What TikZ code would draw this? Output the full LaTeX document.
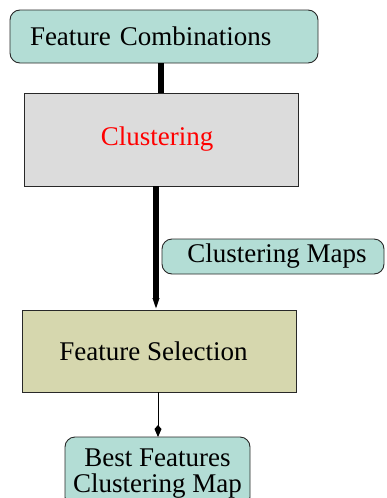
\documentclass[tikz,border=0pt]{standalone}
\usepackage{fontspec}
\setmainfont{Liberation Serif}
\usetikzlibrary{arrows.meta}
\definecolor{tealbox}{RGB}{179,221,213}
\definecolor{graybox}{RGB}{220,220,220}
\definecolor{olivebox}{RGB}{214,215,174}
\definecolor{edgegray}{RGB}{40,40,40}
\begin{document}
\begin{tikzpicture}[x=1pt,y=-1pt,
  every node/.style={font=\fontsize{27}{26}\selectfont, inner sep=0pt, outer sep=0pt},
  roundbox/.style={draw=edgegray, line width=0.9pt, fill=tealbox, rounded corners=10pt},
  squarebox/.style={draw=edgegray, line width=0.9pt},
  thickline/.style={line width=6pt},
  thinline/.style={line width=1pt}
]
\useasboundingbox (0,0) rectangle (387,498);
\clip (0,0) rectangle (387,498);
\node[roundbox, minimum height=53pt, text width=268pt, inner xsep=20pt, align=left] (fc) at (164,36.5) {Feature Combinations};
\node[squarebox, fill=graybox, minimum width=274pt, minimum height=93pt, text=red] (cl) at (161,139.5) {\hspace{-8pt}Clustering};
\node[roundbox, minimum width=222pt, minimum height=35pt] (cm) at (273,256.5) {\hspace{8pt}Clustering Maps};
\node[squarebox, fill=olivebox, minimum width=274pt, minimum height=82pt] (fs) at (159,351) {\hspace{-11pt}Feature Selection};
\node[roundbox, minimum width=185pt, minimum height=70pt, align=center, anchor=north] (bf) at (157.5,437) {\rule{0pt}{20pt}Best Features\\Clustering Map};
\draw[thickline] (cl.north |- fc.south) -- (cl.north);
\draw[thickline, -{Triangle[width=6pt,length=12pt]}] ([xshift=-5pt]cl.south) -- ([xshift=-5pt]cl.south |- fs.north);
\draw[thinline, -{Kite[length=12pt,width=7pt,inset=4pt]}] ([xshift=-1pt]fs.south) -- ([xshift=-1pt]fs.south |- bf.north);
\end{tikzpicture}
\end{document}
